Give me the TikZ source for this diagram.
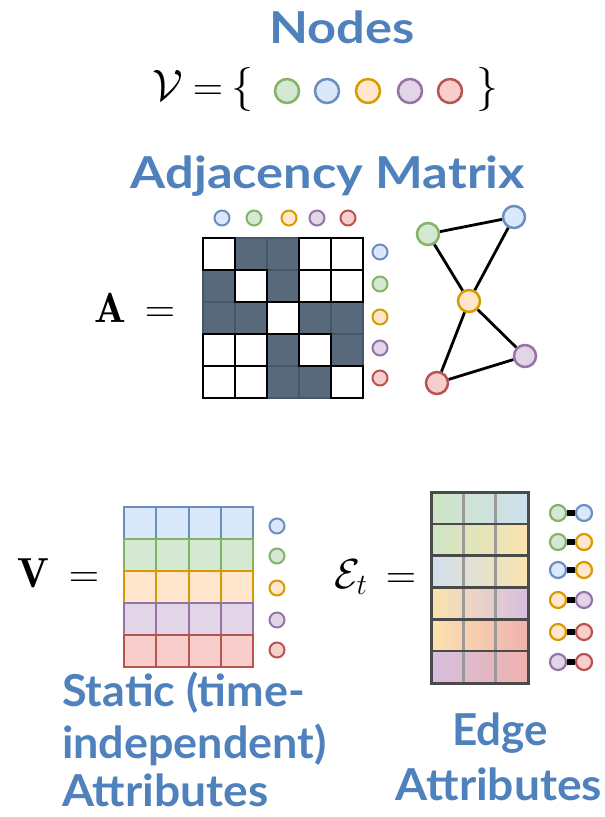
\documentclass[tikz,border=0pt]{standalone}
\usepackage{fix-cm}
\usepackage{graphicx}
\usepackage{fontspec}
\newfontfamily\titlefont{Lato}
\definecolor{ttl}{HTML}{4F81BD}
\definecolor{gF}{HTML}{D5E8D4}\definecolor{gS}{HTML}{82B366}
\definecolor{bF}{HTML}{DAE8FC}\definecolor{bS}{HTML}{6C8EBF}
\definecolor{oF}{HTML}{FFE6CC}\definecolor{oS}{HTML}{D79B00}
\definecolor{pF}{HTML}{E1D5E7}\definecolor{pS}{HTML}{9673A6}
\definecolor{rF}{HTML}{F8CECC}\definecolor{rS}{HTML}{B85450}
\definecolor{gE}{HTML}{CDE5C4}\definecolor{bE}{HTML}{CFDFEE}
\definecolor{oE}{HTML}{FBE3AE}\definecolor{pE}{HTML}{D5BFDF}
\definecolor{rE}{HTML}{F0B2AE}
\definecolor{slate}{HTML}{58697C}\definecolor{slateD}{HTML}{46576A}
\definecolor{egrid}{HTML}{4A4A4A}\definecolor{egridL}{HTML}{9A9A9A}
\newcommand{\wtxt}[2]{\scalebox{#1}[1]{#2}}
\tikzset{
  ttltext/.style={text=ttl, font=\titlefont\bfseries\fontsize{44}{50}\selectfont, inner sep=0, text depth=0pt},
  mathtext/.style={font=\fontsize{42}{48}\selectfont, inner sep=0},
  bigdot/.style={circle, line width=2.5pt, minimum size=24pt, inner sep=0},
  smalldot/.style={circle, line width=2pt, minimum size=15pt, inner sep=0},
  gnode/.style={circle, line width=2.5pt, minimum size=22pt, inner sep=0},
  edot/.style={circle, line width=2.2pt, minimum size=16pt, inner sep=0},
  cg/.style={draw=gS, fill=gF}, cb/.style={draw=bS, fill=bF},
  co/.style={draw=oS, fill=oF}, cp/.style={draw=pS, fill=pF},
  cr/.style={draw=rS, fill=rF},
  gedge/.style={line width=2.8pt, black},
  elink/.style={line width=6pt, black},
}
\begin{document}
\begin{tikzpicture}[x=1pt, y=-1pt]
\useasboundingbox (0,0) rectangle (605,817);
% titles
\node[ttltext, anchor=base] (tNodes) at (342,43) {\wtxt{1.15}{Nodes}};
\node[ttltext, anchor=base] (tAdj) at (328,188) {\wtxt{1.15}{Adjacency Matrix}};
% node set
\node[mathtext, anchor=base, font=\fontsize{44}{50}\selectfont] (calV) at (168,100) {$\mathcal{V}$};
\node[mathtext, anchor=base] (eq0) at (208,100) {$=$};
\node[mathtext, anchor=base, font=\fontsize{44}{50}\selectfont] (lbr) at (242,100) {$\{$};
\node[mathtext, anchor=base, font=\fontsize{44}{50}\selectfont] (rbr) at (487,100) {$\}$};
\node[bigdot, cg] (s1) at (287,91) {};
\node[bigdot, cb] (s2) at (327,91) {};
\node[bigdot, co] (s3) at (368,91) {};
\node[bigdot, cp] (s4) at (410,91) {};
\node[bigdot, cr] (s5) at (450,91) {};
% A =
\node[mathtext, anchor=base] (Alab) at (110,322) {$\mathbf{A}$};
\node[mathtext, anchor=base] (eqA) at (160,322) {$=$};
% adjacency matrix
\foreach \r/\c in {1/2,1/3,2/1,2/3,3/1,3/2,3/4,3/5,4/3,4/5,5/3,5/4}{
  \draw[fill=slate, draw=slateD, line width=1.2pt] ({203+32*(\c-1)},{238+32*(\r-1)}) rectangle ++(32,32);
}
\foreach \r/\c in {1/1,1/4,1/5,2/2,2/4,2/5,3/3,4/1,4/2,4/4,5/1,5/2,5/5}{
  \draw[fill=white, draw=black, line width=2.6pt] ({203+32*(\c-1)},{238+32*(\r-1)}) rectangle ++(32,32);
}
\node[smalldot, cb] (h1) at (222,218) {};
\node[smalldot, cg] (h2) at (254,218) {};
\node[smalldot, co] (h3) at (289,218) {};
\node[smalldot, cp] (h4) at (317,218) {};
\node[smalldot, cr] (h5) at (348,218) {};
\node[smalldot, cb] (v1) at (380,252) {};
\node[smalldot, cg] (v2) at (380,284) {};
\node[smalldot, co] (v3) at (380,317) {};
\node[smalldot, cp] (v4) at (380,348) {};
\node[smalldot, cr] (v5) at (380,378) {};
% graph
\node[gnode, cg] (ng) at (428,234) {};
\node[gnode, cb] (nb) at (514,217) {};
\node[gnode, co] (no) at (469,301) {};
\node[gnode, cp] (np) at (525,356) {};
\node[gnode, cr] (nr) at (437,383) {};
\draw[gedge] (ng) -- (nb);
\draw[gedge] (ng) -- (no);
\draw[gedge] (nb) -- (no);
\draw[gedge] (no) -- (np);
\draw[gedge] (no) -- (nr);
\draw[gedge] (np) -- (nr);
% V =
\node[mathtext, anchor=base] (Vlab) at (33,587) {$\mathbf{V}$};
\node[mathtext, anchor=base] (eqV) at (84,587) {$=$};
\foreach \r/\col in {1/b,2/g,3/o,4/p,5/r}{
  \foreach \c in {1,...,4}{
    \draw[draw=\col S, fill=\col F, line width=2pt] ({124+32.25*(\c-1)},{507+32*(\r-1)}) rectangle ++(32.25,32);
  }
}
\node[smalldot, cb] (w1) at (277,526) {};
\node[smalldot, cg] (w2) at (277,556) {};
\node[smalldot, co] (w3) at (277,588) {};
\node[smalldot, cp] (w4) at (277,620) {};
\node[smalldot, cr] (w5) at (277,650) {};
% E_t =
\node[mathtext, anchor=base] (Elab) at (351,588) {$\mathcal{E}_t$};
\node[mathtext, anchor=base] (eqE) at (401,588) {$=$};
\foreach \r/\a/\b in {1/gE/bE,2/gE/oE,3/bE/oE,4/oE/pE,5/oE/rE,6/pE/rE}{
  \shade[left color=\a, right color=\b] (431,{492+31.83*(\r-1)}) rectangle (528,{492+31.83*\r});
}
\foreach \x in {463.3,495.7}{
  \draw[egridL, line width=2.5pt] (\x,492) -- (\x,683);
}
\foreach \r in {1,...,5}{
  \draw[egrid, line width=2.5pt] (431,{492+31.83*\r}) -- (528,{492+31.83*\r});
}
\draw[egrid, line width=3pt] (431,492) rectangle (528,683);
% edge icons
\foreach \i/\y/\a/\b in {1/513/cg/cb,2/542/cg/co,3/570/cb/co,4/600/co/cp,5/632/co/cr,6/662/cp/cr}{
  \node[edot, \a] (ea\i) at (558,\y) {};
  \node[edot, \b] (eb\i) at (584,\y) {};
  \draw[elink] (ea\i) -- (eb\i);
}
% labels
\node[ttltext, anchor=base west] (st1) at (62,706) {\wtxt{1.02}{Static (time-}};
\node[ttltext, anchor=base west] (st2) at (62,758) {\wtxt{1.02}{independent)}};
\node[ttltext, anchor=base west] (st3) at (62,806) {\wtxt{1.05}{Attributes}};
\node[ttltext, anchor=base] (ed1) at (500,745) {\wtxt{1.0}{Edge}};
\node[ttltext, anchor=base] (ed2) at (499,800) {\wtxt{1.05}{Attributes}};
\end{tikzpicture}
\end{document}
